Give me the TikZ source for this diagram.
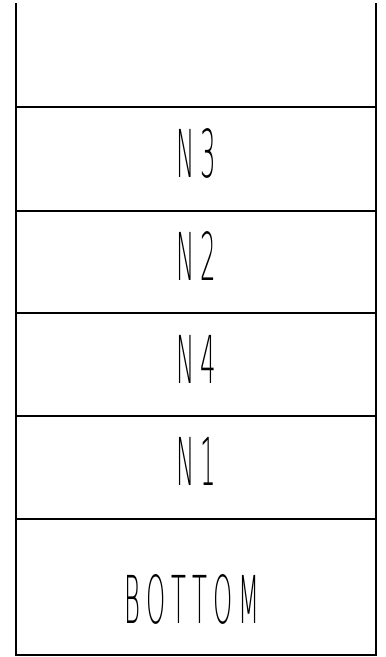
\documentclass[tikz,border=0pt]{standalone}
\usepackage{fontspec}
\IfFontExistsTF{DejaVu Sans ExtraLight}
  {\newfontfamily\cadfont{DejaVu Sans ExtraLight}[LetterSpace=25]}
  {\newfontfamily\cadfont{Liberation Sans}[LetterSpace=25]}
\tikzset{
  wall/.style={line width=1.6pt, line cap=rect},
  floorline/.style={line width=1.3pt},
  layerlabel/.style={anchor=base, inner sep=0pt, xscale=0.37, transform shape,
    font=\cadfont\fontsize{66}{66}\selectfont}
}
\begin{document}
\begin{tikzpicture}[x=1pt,y=-1pt]
\useasboundingbox (0,0) rectangle (386,657);
\coordinate (topL) at (16,4);
\coordinate (topR) at (376,4);
\coordinate (botL) at (16,655);
\coordinate (botR) at (376,655);
\foreach \n/\y in {A/107,B/211,C/313,D/416,E/519}{
  \coordinate (floor\n L) at (16,\y);
  \coordinate (floor\n R) at (376,\y);
  \draw[floorline] (floor\n L) -- (floor\n R);
}
\draw[wall] (topL) -- (botL) -- (botR) -- (topR);
\node[layerlabel] (n3) at (196,177) {N3};
\node[layerlabel] (n2) at (196,280) {N2};
\node[layerlabel] (n4) at (196,383) {N4};
\node[layerlabel] (n1) at (196,485) {N1};
\node[layerlabel] (bot) at (192,623) {BOTTOM};
\end{tikzpicture}
\end{document}
